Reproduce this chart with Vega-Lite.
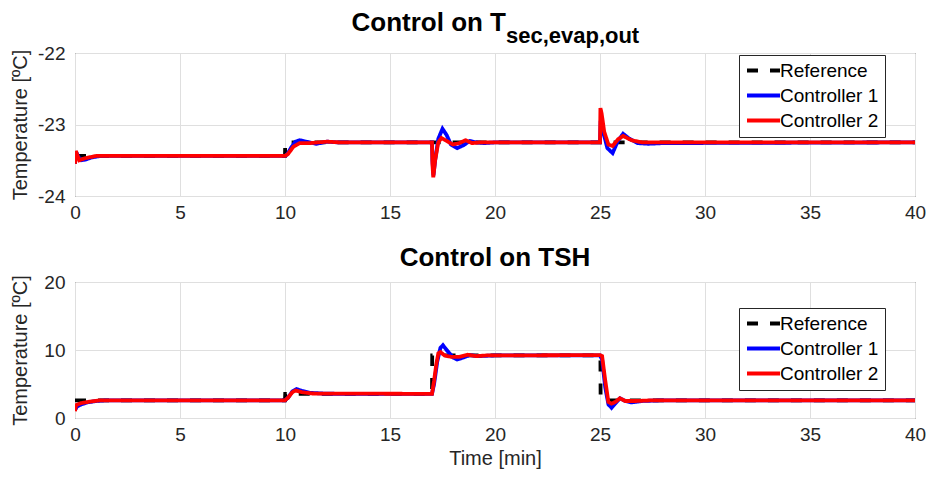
{
  "$schema": "https://vega.github.io/schema/vega-lite/v6.json",
  "background": "white",
  "padding": {"left": 10, "top": 9, "right": 8, "bottom": 2},
  "spacing": 21,
  "datasets": {
    "tsec": [
      {"t": 0, "v": -23.44, "s": "Reference"},
      {"t": 10, "v": -23.44, "s": "Reference"},
      {"t": 10.01, "v": -23.25, "s": "Reference"},
      {"t": 40, "v": -23.25, "s": "Reference"},
      {"t": 0, "v": -23.55, "s": "Controller 1"},
      {"t": 0.05, "v": -23.38, "s": "Controller 1"},
      {"t": 0.15, "v": -23.45, "s": "Controller 1"},
      {"t": 0.3, "v": -23.5, "s": "Controller 1"},
      {"t": 0.5, "v": -23.49, "s": "Controller 1"},
      {"t": 0.8, "v": -23.46, "s": "Controller 1"},
      {"t": 1.2, "v": -23.44, "s": "Controller 1"},
      {"t": 10, "v": -23.44, "s": "Controller 1"},
      {"t": 10.1, "v": -23.42, "s": "Controller 1"},
      {"t": 10.3, "v": -23.32, "s": "Controller 1"},
      {"t": 10.5, "v": -23.24, "s": "Controller 1"},
      {"t": 10.7, "v": -23.22, "s": "Controller 1"},
      {"t": 11.0, "v": -23.24, "s": "Controller 1"},
      {"t": 11.5, "v": -23.27, "s": "Controller 1"},
      {"t": 12.0, "v": -23.24, "s": "Controller 1"},
      {"t": 12.5, "v": -23.25, "s": "Controller 1"},
      {"t": 17, "v": -23.25, "s": "Controller 1"},
      {"t": 17.02, "v": -23.5, "s": "Controller 1"},
      {"t": 17.07, "v": -23.71, "s": "Controller 1"},
      {"t": 17.15, "v": -23.5, "s": "Controller 1"},
      {"t": 17.3, "v": -23.2, "s": "Controller 1"},
      {"t": 17.5, "v": -23.06, "s": "Controller 1"},
      {"t": 17.7, "v": -23.15, "s": "Controller 1"},
      {"t": 17.9, "v": -23.28, "s": "Controller 1"},
      {"t": 18.2, "v": -23.33, "s": "Controller 1"},
      {"t": 18.5, "v": -23.29, "s": "Controller 1"},
      {"t": 18.8, "v": -23.23, "s": "Controller 1"},
      {"t": 19.1, "v": -23.25, "s": "Controller 1"},
      {"t": 19.5, "v": -23.26, "s": "Controller 1"},
      {"t": 20, "v": -23.25, "s": "Controller 1"},
      {"t": 25, "v": -23.25, "s": "Controller 1"},
      {"t": 25.03, "v": -22.95, "s": "Controller 1"},
      {"t": 25.15, "v": -23.1, "s": "Controller 1"},
      {"t": 25.35, "v": -23.33, "s": "Controller 1"},
      {"t": 25.6, "v": -23.4, "s": "Controller 1"},
      {"t": 25.85, "v": -23.23, "s": "Controller 1"},
      {"t": 26.1, "v": -23.13, "s": "Controller 1"},
      {"t": 26.4, "v": -23.2, "s": "Controller 1"},
      {"t": 26.8, "v": -23.26, "s": "Controller 1"},
      {"t": 27.3, "v": -23.27, "s": "Controller 1"},
      {"t": 28, "v": -23.26, "s": "Controller 1"},
      {"t": 40, "v": -23.25, "s": "Controller 1"},
      {"t": 0, "v": -23.55, "s": "Controller 2"},
      {"t": 0.04, "v": -23.37, "s": "Controller 2"},
      {"t": 0.2, "v": -23.5, "s": "Controller 2"},
      {"t": 0.5, "v": -23.47, "s": "Controller 2"},
      {"t": 1.0, "v": -23.44, "s": "Controller 2"},
      {"t": 10, "v": -23.44, "s": "Controller 2"},
      {"t": 10.15, "v": -23.41, "s": "Controller 2"},
      {"t": 10.4, "v": -23.31, "s": "Controller 2"},
      {"t": 10.7, "v": -23.26, "s": "Controller 2"},
      {"t": 11.2, "v": -23.26, "s": "Controller 2"},
      {"t": 12.0, "v": -23.24, "s": "Controller 2"},
      {"t": 12.6, "v": -23.25, "s": "Controller 2"},
      {"t": 17, "v": -23.25, "s": "Controller 2"},
      {"t": 17.02, "v": -23.55, "s": "Controller 2"},
      {"t": 17.06, "v": -23.74, "s": "Controller 2"},
      {"t": 17.15, "v": -23.5, "s": "Controller 2"},
      {"t": 17.3, "v": -23.25, "s": "Controller 2"},
      {"t": 17.45, "v": -23.19, "s": "Controller 2"},
      {"t": 17.7, "v": -23.23, "s": "Controller 2"},
      {"t": 18.0, "v": -23.28, "s": "Controller 2"},
      {"t": 18.3, "v": -23.26, "s": "Controller 2"},
      {"t": 18.6, "v": -23.22, "s": "Controller 2"},
      {"t": 18.9, "v": -23.26, "s": "Controller 2"},
      {"t": 19.3, "v": -23.25, "s": "Controller 2"},
      {"t": 25, "v": -23.25, "s": "Controller 2"},
      {"t": 25.02, "v": -22.77, "s": "Controller 2"},
      {"t": 25.08, "v": -22.85, "s": "Controller 2"},
      {"t": 25.2, "v": -23.1, "s": "Controller 2"},
      {"t": 25.4, "v": -23.28, "s": "Controller 2"},
      {"t": 25.6, "v": -23.3, "s": "Controller 2"},
      {"t": 25.85, "v": -23.21, "s": "Controller 2"},
      {"t": 26.1, "v": -23.16, "s": "Controller 2"},
      {"t": 26.5, "v": -23.22, "s": "Controller 2"},
      {"t": 27.0, "v": -23.25, "s": "Controller 2"},
      {"t": 40, "v": -23.25, "s": "Controller 2"}
    ],
    "tsh": [
      {"t": 0, "v": 2.6, "s": "Reference"},
      {"t": 10, "v": 2.6, "s": "Reference"},
      {"t": 10.01, "v": 3.55, "s": "Reference"},
      {"t": 17, "v": 3.55, "s": "Reference"},
      {"t": 17.01, "v": 9.2, "s": "Reference"},
      {"t": 25.02, "v": 9.2, "s": "Reference"},
      {"t": 25.03, "v": 2.6, "s": "Reference"},
      {"t": 40, "v": 2.6, "s": "Reference"},
      {"t": 0, "v": 1.2, "s": "Controller 1"},
      {"t": 0.1, "v": 1.7, "s": "Controller 1"},
      {"t": 0.3, "v": 2.0, "s": "Controller 1"},
      {"t": 0.6, "v": 2.3, "s": "Controller 1"},
      {"t": 1.0, "v": 2.5, "s": "Controller 1"},
      {"t": 1.5, "v": 2.6, "s": "Controller 1"},
      {"t": 10, "v": 2.6, "s": "Controller 1"},
      {"t": 10.15, "v": 3.0, "s": "Controller 1"},
      {"t": 10.35, "v": 3.9, "s": "Controller 1"},
      {"t": 10.55, "v": 4.25, "s": "Controller 1"},
      {"t": 10.8, "v": 4.0, "s": "Controller 1"},
      {"t": 11.2, "v": 3.7, "s": "Controller 1"},
      {"t": 11.8, "v": 3.6, "s": "Controller 1"},
      {"t": 12.5, "v": 3.55, "s": "Controller 1"},
      {"t": 17, "v": 3.55, "s": "Controller 1"},
      {"t": 17.1, "v": 5.0, "s": "Controller 1"},
      {"t": 17.25, "v": 8.3, "s": "Controller 1"},
      {"t": 17.4, "v": 10.3, "s": "Controller 1"},
      {"t": 17.52, "v": 10.7, "s": "Controller 1"},
      {"t": 17.75, "v": 9.8, "s": "Controller 1"},
      {"t": 18.0, "v": 8.9, "s": "Controller 1"},
      {"t": 18.2, "v": 8.6, "s": "Controller 1"},
      {"t": 18.5, "v": 8.9, "s": "Controller 1"},
      {"t": 18.8, "v": 9.25, "s": "Controller 1"},
      {"t": 19.2, "v": 9.1, "s": "Controller 1"},
      {"t": 20, "v": 9.2, "s": "Controller 1"},
      {"t": 25, "v": 9.2, "s": "Controller 1"},
      {"t": 25.1, "v": 8.6, "s": "Controller 1"},
      {"t": 25.25, "v": 4.5, "s": "Controller 1"},
      {"t": 25.4, "v": 2.0, "s": "Controller 1"},
      {"t": 25.55, "v": 1.5, "s": "Controller 1"},
      {"t": 25.75, "v": 2.2, "s": "Controller 1"},
      {"t": 25.95, "v": 2.9, "s": "Controller 1"},
      {"t": 26.2, "v": 2.5, "s": "Controller 1"},
      {"t": 26.5, "v": 2.3, "s": "Controller 1"},
      {"t": 27, "v": 2.5, "s": "Controller 1"},
      {"t": 28, "v": 2.6, "s": "Controller 1"},
      {"t": 40, "v": 2.6, "s": "Controller 1"},
      {"t": 0, "v": 1.0, "s": "Controller 2"},
      {"t": 0.05, "v": 1.9, "s": "Controller 2"},
      {"t": 0.3, "v": 2.2, "s": "Controller 2"},
      {"t": 0.7, "v": 2.4, "s": "Controller 2"},
      {"t": 1.2, "v": 2.6, "s": "Controller 2"},
      {"t": 10, "v": 2.6, "s": "Controller 2"},
      {"t": 10.15, "v": 3.0, "s": "Controller 2"},
      {"t": 10.35, "v": 3.8, "s": "Controller 2"},
      {"t": 10.5, "v": 4.05, "s": "Controller 2"},
      {"t": 10.8, "v": 3.8, "s": "Controller 2"},
      {"t": 11.3, "v": 3.6, "s": "Controller 2"},
      {"t": 17, "v": 3.55, "s": "Controller 2"},
      {"t": 17.1, "v": 5.5, "s": "Controller 2"},
      {"t": 17.2, "v": 7.8, "s": "Controller 2"},
      {"t": 17.3, "v": 9.5, "s": "Controller 2"},
      {"t": 17.4, "v": 9.7, "s": "Controller 2"},
      {"t": 17.6, "v": 9.2, "s": "Controller 2"},
      {"t": 17.9, "v": 9.0, "s": "Controller 2"},
      {"t": 18.3, "v": 9.0, "s": "Controller 2"},
      {"t": 18.7, "v": 9.3, "s": "Controller 2"},
      {"t": 19.1, "v": 9.1, "s": "Controller 2"},
      {"t": 19.6, "v": 9.2, "s": "Controller 2"},
      {"t": 25, "v": 9.25, "s": "Controller 2"},
      {"t": 25.1, "v": 9.1, "s": "Controller 2"},
      {"t": 25.25, "v": 5.5, "s": "Controller 2"},
      {"t": 25.4, "v": 2.35, "s": "Controller 2"},
      {"t": 25.55, "v": 2.1, "s": "Controller 2"},
      {"t": 25.75, "v": 2.4, "s": "Controller 2"},
      {"t": 25.95, "v": 2.9, "s": "Controller 2"},
      {"t": 26.2, "v": 2.5, "s": "Controller 2"},
      {"t": 26.7, "v": 2.5, "s": "Controller 2"},
      {"t": 27.5, "v": 2.6, "s": "Controller 2"},
      {"t": 40, "v": 2.6, "s": "Controller 2"}
    ],
    "sub": [{"label": "sec,evap,out"}]
  },
  "resolve": {"legend": {"color": "independent", "strokeDash": "independent"}, "scale": {"y": "independent"}},
  "vconcat": [
    {
      "width": 840,
      "height": 143,
      "title": {"text": "Control on T", "anchor": "middle", "align": "right", "dx": 11, "fontSize": 26, "fontWeight": "bold", "color": "#000000", "offset": -11},
      "layer": [
        {
          "data": {"name": "tsec"},
          "mark": {"type": "line", "strokeWidth": 3.8, "clip": true},
          "encoding": {
            "x": {"field": "t", "type": "quantitative", "scale": {"domain": [0, 40]}, "axis": {"values": [0, 5, 10, 15, 20, 25, 30, 35, 40], "title": null}},
            "y": {"field": "v", "type": "quantitative", "scale": {"domain": [-24, -22]}, "axis": {"values": [-24, -23, -22], "labelExpr": "'' + datum.value", "title": "Temperature [ºC]", "titlePadding": 7}},
            "color": {"field": "s", "type": "nominal", "sort": null, "scale": {"domain": ["Reference", "Controller 1", "Controller 2"], "range": ["#000000", "#0000ff", "#ff0000"]}, "legend": {"title": null, "orient": "none", "legendX": 664, "legendY": 2}},
            "strokeDash": {"field": "s", "type": "nominal", "sort": null, "scale": {"domain": ["Reference", "Controller 1", "Controller 2"], "range": [[11, 12], [1, 0], [1, 0]]}, "legend": {"title": null, "orient": "none", "legendX": 664, "legendY": 2}}
          }
        },
        {
          "data": {"name": "sub"},
          "mark": {"type": "text", "align": "left", "baseline": "alphabetic", "fontSize": 22, "fontWeight": "bold", "color": "#000000", "clip": false},
          "encoding": {
            "x": {"datum": 20.52, "type": "quantitative"},
            "y": {"datum": -21.86, "type": "quantitative"},
            "text": {"field": "label"}
          }
        }
      ]
    },
    {
      "width": 840,
      "height": 136,
      "title": {"text": "Control on TSH", "anchor": "middle", "fontSize": 26, "fontWeight": "bold", "color": "#000000", "offset": 2},
      "data": {"name": "tsh"},
      "mark": {"type": "line", "strokeWidth": 3.8, "clip": true},
      "encoding": {
        "x": {"field": "t", "type": "quantitative", "scale": {"domain": [0, 40]}, "axis": {"values": [0, 5, 10, 15, 20, 25, 30, 35, 40], "title": "Time [min]"}},
        "y": {"field": "v", "type": "quantitative", "scale": {"domain": [0, 20]}, "axis": {"values": [0, 10, 20], "title": "Temperature [ºC]", "titlePadding": 13}},
        "color": {"field": "s", "type": "nominal", "sort": null, "scale": {"domain": ["Reference", "Controller 1", "Controller 2"], "range": ["#000000", "#0000ff", "#ff0000"]}, "legend": {"title": null, "orient": "none", "legendX": 664, "legendY": 26}},
        "strokeDash": {"field": "s", "type": "nominal", "sort": null, "scale": {"domain": ["Reference", "Controller 1", "Controller 2"], "range": [[11, 12], [1, 0], [1, 0]]}, "legend": {"title": null, "orient": "none", "legendX": 664, "legendY": 26}}
      }
    }
  ],
  "config": {
    "font": "Liberation Sans",
    "view": {"stroke": "#262626", "strokeWidth": 1},
    "axis": {
      "labelFont": "Liberation Sans",
      "titleFont": "Liberation Sans",
      "labelFontSize": 19,
      "titleFontSize": 20,
      "titleFontWeight": "normal",
      "labelColor": "#262626",
      "titleColor": "#262626",
      "domain": false,
      "grid": true,
      "gridColor": "#dfdfdf",
      "ticks": false,
      "labelFlush": false
    },
    "axisX": {"titlePadding": 4, "labelPadding": 7},
    "axisY": {"labelPadding": 10},
    "legend": {
      "symbolType": "M-3,0H3",
      "symbolSize": 121,
      "symbolOffset": 9,
      "symbolStrokeWidth": 3.8,
      "symbolFillColor": "transparent",
      "labelFont": "Liberation Sans",
      "labelFontSize": 19,
      "labelColor": "#000000",
      "fillColor": "#ffffff",
      "strokeColor": "#262626",
      "padding": 6,
      "rowPadding": 5,
      "labelOffset": 7
    }
  }
}
